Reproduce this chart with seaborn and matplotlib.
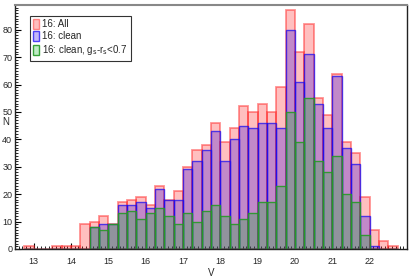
import numpy as np
import pandas as pd
import seaborn as sns
import matplotlib
matplotlib.use("Agg")
import matplotlib.pyplot as plt
from matplotlib.patches import Patch
from matplotlib.ticker import MultipleLocator

# bin left edges (V), bin width 0.25
bin_left = [12.75, 13.0, 13.25, 13.5, 13.75, 14.0, 14.25, 14.5, 14.75, 15.0,
            15.25, 15.5, 15.75, 16.0, 16.25, 16.5, 16.75, 17.0, 17.25, 17.5,
            17.75, 18.0, 18.25, 18.5, 18.75, 19.0, 19.25, 19.5, 19.75, 20.0,
            20.25, 20.5, 20.75, 21.0, 21.25, 21.5, 21.75, 22.0, 22.25, 22.5]
bin_width = 0.25

n_all = [1, 0, 0, 1, 1, 1, 9, 10, 12, 9,
         17, 18, 19, 16, 23, 18, 21, 30, 36, 38,
         46, 39, 44, 52, 50, 53, 50, 59, 87, 72,
         82, 55, 49, 64, 39, 35, 19, 7, 3, 1]
n_clean = [0, 0, 0, 0, 0, 0, 0, 8, 9, 9,
           16, 16, 17, 15, 22, 18, 18, 29, 32, 36,
           43, 32, 40, 45, 44, 46, 46, 44, 80, 61,
           71, 53, 44, 63, 37, 31, 12, 1, 0, 0]
n_color = [0, 0, 0, 0, 0, 0, 0, 8, 7, 9,
           13, 14, 11, 13, 15, 12, 9, 13, 10, 14,
           16, 12, 9, 11, 13, 17, 17, 23, 50, 39,
           55, 32, 28, 34, 20, 17, 5, 0, 0, 0]

x_ticks = [13, 14, 15, 16, 17, 18, 19, 20, 21, 22]
labels = ["16: All", "16: clean", r"16: clean, g$_\mathrm{s}$-r$_\mathrm{s}$<0.7"]

df = pd.DataFrame({"V": [b + bin_width / 2 for b in bin_left],
                   "all": n_all, "clean": n_clean, "color": n_color})
edges = bin_left + [bin_left[-1] + bin_width]

sns.set_style("ticks")
plt.rcParams["font.family"] = ["Liberation Sans", "DejaVu Sans"]

fig = plt.figure(figsize=(4.16, 2.77), dpi=100)
ax = fig.add_axes([15 / 416, 28 / 277, 392 / 416, 244 / 277])

# (column, face, edge, edge width)
styles = [
    ("all", (1, 0, 0, 0.25), (1, 0.15, 0.15, 0.5), 1.3),
    ("clean", (0.15, 0, 0.9, 0.28), (0.1, 0.05, 0.95, 0.75), 1.0),
    ("color", (0, 0.7, 0.1, 0.25), (0.15, 0.6, 0.15, 0.9), 1.0),
]
for col, fc, ec, lw in styles:
    sns.histplot(data=df, x="V", weights=col, bins=edges, ax=ax,
                 facecolor=fc, edgecolor=ec, linewidth=lw)

ax.set_xlim(12.5, 23)
ax.set_ylim(0, 89)
ax.set_xticks(x_ticks)
ax.set_xticklabels([str(t) for t in x_ticks])
ax.xaxis.set_minor_locator(MultipleLocator(0.1))
ax.yaxis.set_major_locator(MultipleLocator(10))
ax.yaxis.set_minor_locator(MultipleLocator(1))
ax.tick_params(which="both", direction="in", top=False, right=False,
               labelsize=6.5, color="black")
ax.tick_params(axis="x", pad=6)
ax.tick_params(axis="y", pad=2)
ax.tick_params(which="major", length=4, width=0.8)
ax.tick_params(which="minor", length=2, width=0.6)

ax.set_xlabel("V", fontsize=7, labelpad=1)
ax.set_ylabel("N", fontsize=7, rotation=0)
ax.yaxis.set_label_coords(-0.024, 0.5)

for side in ["left", "bottom", "right"]:
    ax.spines[side].set_color("#222222")
    ax.spines[side].set_linewidth(1.0)
ax.spines["top"].set_color("#888888")
ax.spines["top"].set_linewidth(1.5)

handles = [Patch(facecolor=fc, edgecolor=ec, linewidth=1.0) for _, fc, ec, _ in styles]
leg = ax.legend(handles, labels, loc="upper left", fontsize=7, frameon=True,
                fancybox=False, handlelength=0.6, handleheight=1.1,
                handletextpad=0.3, labelspacing=0.2, borderpad=0.35,
                bbox_to_anchor=(0.025, 0.975))
leg.get_frame().set_edgecolor("black")
leg.get_frame().set_linewidth(0.8)

fig.savefig("out.png", dpi=100)
